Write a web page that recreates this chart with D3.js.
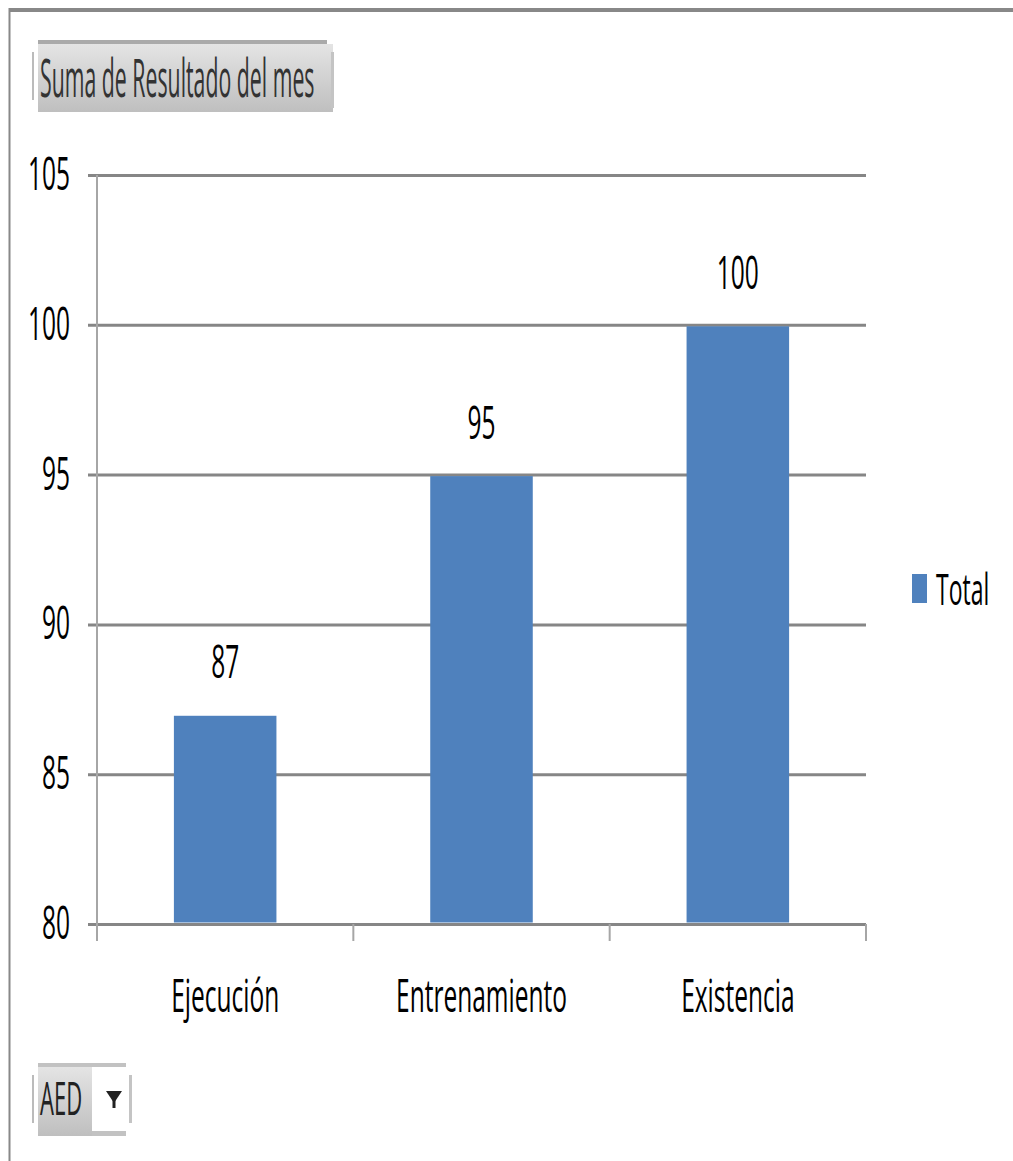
<!DOCTYPE html>
<html>
<head>
<meta charset="utf-8">
<script src="https://cdn.jsdelivr.net/npm/d3@7"></script>
<style>
  body { margin: 0; background: #fff; }
  svg { display: block; }
  text { font-family: "Open Sans", sans-serif; fill: #000; }
</style>
</head>
<body>
<div id="chart"></div>
<script>
// data
const categories = ["Ejecución", "Entrenamiento", "Existencia"];
const values = [87, 95, 100];
const yTicks = [80, 85, 90, 95, 100, 105];
const seriesName = "Total";
const fieldButton = "Suma de Resultado del mes";
const filterButton = "AED";

const width = 1013, height = 1161;
const margin = { t: 175, r: 147, b: 237, l: 97 };
const w = width - margin.l - margin.r;
const h = height - margin.t - margin.b;
const stretch = 1.85; // text in the picture is drawn tall and narrow
const barColor = "#4f81bd";
const gridColor = "#868686";
const axisColor = "#a6a6a6";

const svg = d3.select('#chart').append('svg')
  .attr('width', width)
  .attr('height', height);

const defs = svg.append('defs');
const grad = defs.append('linearGradient')
  .attr('id', 'btn').attr('x1', 0).attr('y1', 0).attr('x2', 0).attr('y2', 1);
grad.append('stop').attr('offset', '0%').attr('stop-color', '#e4e4e4');
grad.append('stop').attr('offset', '100%').attr('stop-color', '#bfbfbf');

// chart area border (only top and left visible)
svg.append('line').attr('x1', 9).attr('x2', width).attr('y1', 10).attr('y2', 10)
  .style('stroke', '#888').style('stroke-width', 4);
svg.append('line').attr('x1', 9.5).attr('x2', 9.5).attr('y1', 8).attr('y2', height)
  .style('stroke', '#888').style('stroke-width', 2);

// helper for stretched text
function stext(parent, x, y, txt, size, k, anchor) {
  const g = parent.append('g').attr('transform', `translate(${x},${y}) scale(1,${k})`);
  return g.append('text')
    .attr('text-anchor', anchor || 'start')
    .style('font-size', size + 'px')
    .text(txt);
}

// field button at top
const tb = svg.append('g');
tb.append('rect').attr('x', 38).attr('y', 40).attr('width', 289).attr('height', 4).style('fill', '#aaa');
tb.append('rect').attr('x', 38).attr('y', 44).attr('width', 295).attr('height', 68).style('fill', 'url(#btn)');
tb.append('rect').attr('x', 32).attr('y', 52).attr('width', 2).attr('height', 48).style('fill', '#bbb');
tb.append('rect').attr('x', 331).attr('y', 52).attr('width', 3).attr('height', 56).style('fill', '#c4c4c4');
stext(tb, 40, 97, fieldButton, 21.3, 2.45).style('fill', '#333');

// scales
const scaleX = d3.scaleBand().domain(categories).range([0, w]).paddingInner(0.6).paddingOuter(0.3);
const scaleY = d3.scaleLinear().domain([80, 105]).range([h, 0]);

const plot = svg.append('g').attr('transform', `translate(${margin.l},${margin.t})`);

// y axis with gridlines
const axisY = d3.axisLeft(scaleY).tickValues(yTicks).tickSize(-w).tickPadding(27);
const axisYNode = plot.append('g').attr('class', 'axis-y').call(axisY);
axisYNode.select('.domain').remove();
axisYNode.selectAll('line')
  .attr('x1', -9).attr('x2', w)
  .style('stroke', gridColor).style('stroke-width', 3);
axisYNode.selectAll('text')
  .attr('transform', `scale(1,${stretch})`)
  .style('font-size', '24.5px')
  .style('font-family', '"Open Sans", sans-serif')
  .style('fill', '#000');

// vertical axis line and category boundary ticks
plot.append('line').attr('x1', 0).attr('x2', 0).attr('y1', 0).attr('y2', h + 17)
  .style('stroke', axisColor).style('stroke-width', 2);
const bounds = d3.range(categories.length + 1).map(i => i * scaleX.step());
plot.selectAll('.bound').data(bounds.slice(1)).enter().append('line')
  .attr('class', 'bound')
  .attr('x1', d => d).attr('x2', d => d)
  .attr('y1', h).attr('y2', h + 17)
  .style('stroke', axisColor).style('stroke-width', 2);

// x axis labels
const axisX = d3.axisBottom(scaleX).tickSize(0);
const axisXNode = plot.append('g').attr('class', 'axis-x')
  .attr('transform', `translate(0,${h})`).call(axisX);
axisXNode.select('.domain').remove();
axisXNode.selectAll('text')
  .attr('y', 88 / stretch).attr('dy', 0)
  .attr('transform', `scale(1,${stretch})`)
  .style('font-size', '24.5px')
  .style('font-family', '"Open Sans", sans-serif')
  .style('fill', '#000');

// bars
const data = categories.map((c, i) => ({ key: c, value: values[i] }));
plot.selectAll('.bar').data(data).enter().append('rect')
  .attr('class', 'bar')
  .attr('x', d => scaleX(d.key))
  .attr('width', scaleX.bandwidth())
  .attr('y', d => scaleY(d.value) + 1.5)
  .attr('height', d => h - scaleY(d.value) - 3)
  .style('fill', barColor);

// data labels
data.forEach(d => {
  stext(plot, scaleX(d.key) + scaleX.bandwidth() / 2, scaleY(d.value) - 36, d.value, 24.5, stretch, 'middle');
});

// legend
const lg = svg.append('g');
lg.append('rect').attr('x', 912).attr('y', 574).attr('width', 15).attr('height', 29).style('fill', barColor);
stext(lg, 936, 605, seriesName, 23, 1.9);

// filter button at bottom
const fb = svg.append('g');
fb.append('rect').attr('x', 38).attr('y', 1063).attr('width', 88).attr('height', 4).style('fill', '#c2c2c2');
fb.append('rect').attr('x', 38).attr('y', 1067).attr('width', 88).attr('height', 69).style('fill', '#c2c2c2');
fb.append('rect').attr('x', 38).attr('y', 1067).attr('width', 54).attr('height', 69).style('fill', 'url(#btn)');
fb.append('rect').attr('x', 92).attr('y', 1067).attr('width', 34).attr('height', 64).style('fill', '#fff');
fb.append('rect').attr('x', 32).attr('y', 1075).attr('width', 2).attr('height', 48).style('fill', '#bbb');
fb.append('rect').attr('x', 129).attr('y', 1075).attr('width', 3).attr('height', 48).style('fill', '#c4c4c4');
fb.append('path').attr('d', 'M106,1091 L122,1091 L114,1103 Z').style('fill', '#222');
fb.append('rect').attr('x', 112.5).attr('y', 1099).attr('width', 3).attr('height', 9).style('fill', '#222');
stext(fb, 40, 1115, filterButton, 22, 2.05).style('fill', '#222');
</script>
</body>
</html>
